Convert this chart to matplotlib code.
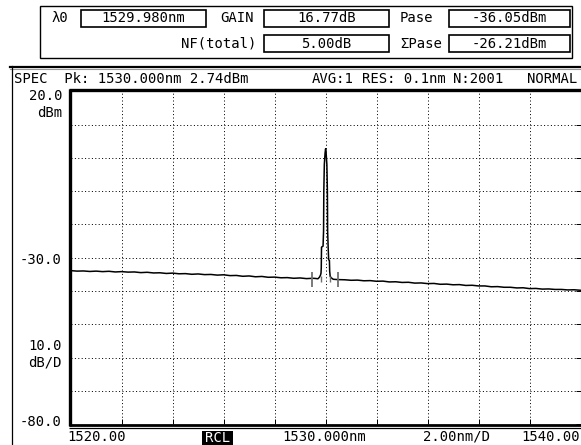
import matplotlib
matplotlib.use("Agg")
import matplotlib.pyplot as plt
import numpy as np
from matplotlib.patches import Rectangle

W, H = 581, 445

# instrument readouts
lambda0_nm = 1529.980
gain_db = 16.77
pase_dbm = -36.05
nf_total_db = 5.00
sum_pase_dbm = -26.21
peak_nm = 1530.000
peak_dbm = 2.74
avg_count = 1
res_nm = 0.1
n_points = 2001

# scale settings
x_start, x_stop, x_div = 1520.00, 1540.00, 2.00
y_top, y_bottom, y_div = 20.0, -80.0, 10.0
y_mid = -30.0

# ASE floor (sampled every 0.25 nm outside the signal line)
floor_nm = [1520.00, 1520.25, 1520.50, 1520.75, 1521.00, 1521.25, 1521.50, 1521.75,
            1522.00, 1522.25, 1522.50, 1522.75, 1523.00, 1523.25, 1523.50, 1523.75,
            1524.00, 1524.25, 1524.50, 1524.75, 1525.00, 1525.25, 1525.50, 1525.75,
            1526.00, 1526.25, 1526.50, 1526.75, 1527.00, 1527.25, 1527.50, 1527.75,
            1528.00, 1528.25, 1528.50, 1528.75, 1529.00, 1529.25, 1529.50,
            1530.50, 1530.75, 1531.00, 1531.25, 1531.50, 1531.75,
            1532.00, 1532.25, 1532.50, 1532.75, 1533.00, 1533.25, 1533.50, 1533.75,
            1534.00, 1534.25, 1534.50, 1534.75, 1535.00, 1535.25, 1535.50, 1535.75,
            1536.00, 1536.25, 1536.50, 1536.75, 1537.00, 1537.25, 1537.50, 1537.75,
            1538.00, 1538.25, 1538.50, 1538.75, 1539.00, 1539.25, 1539.50, 1539.75,
            1540.00]
floor_dbm = [-33.85, -34.00, -33.95, -34.10, -34.00, -34.15, -34.05, -34.25,
             -34.15, -34.30, -34.25, -34.45, -34.35, -34.55, -34.50, -34.70,
             -34.60, -34.80, -34.75, -34.95, -34.85, -35.05, -35.00, -35.20,
             -35.10, -35.35, -35.30, -35.55, -35.45, -35.70, -35.60, -35.85,
             -35.80, -36.00, -35.95, -36.15, -36.05, -36.25, -36.15,
             -36.55, -36.60, -36.75, -36.70, -36.90, -36.85,
             -37.05, -37.00, -37.25, -37.20, -37.40, -37.35, -37.60, -37.55,
             -37.75, -37.70, -37.95, -37.90, -38.10, -38.05, -38.30, -38.25,
             -38.45, -38.45, -38.70, -38.65, -38.85, -38.85, -39.05, -39.00,
             -39.25, -39.20, -39.40, -39.35, -39.50, -39.50, -39.65, -39.60,
             -39.75]

# signal line around 1530 nm
line_nm = [1529.60, 1529.70, 1529.76, 1529.80, 1529.82, 1529.83, 1529.84, 1529.90,
           1529.92, 1529.93, 1529.95, 1529.98, 1530.00, 1530.02, 1530.05, 1530.07,
           1530.08, 1530.10, 1530.12, 1530.15, 1530.16, 1530.18, 1530.22, 1530.30,
           1530.40]
line_dbm = [-36.20, -36.30, -35.80, -35.20, -34.60, -33.00, -26.80, -26.50,
            -22.00, -10.00, -2.00, 1.50, 2.74, 1.50, -2.00, -10.00,
            -22.00, -26.80, -30.60, -30.80, -34.00, -35.60, -36.00, -36.45,
            -36.50]

# ASE interpolation markers
marker_nm = [1529.48, 1530.48]
inner_marker_nm = [1529.80, 1530.18]

plt.rcParams["font.family"] = "DejaVu Sans Mono"
plt.rcParams["font.size"] = 10

fig = plt.figure(figsize=(W / 100, H / 100), dpi=100)
fig.patch.set_facecolor("white")

# spectrum area, pixel box
L, R, T, B = 70.7, 580.5, 91.3, 424.3
ax = fig.add_axes([L / W, 1 - B / H, (R - L) / W, (B - T) / H])
ax.set_xlim(x_start, x_stop)
ax.set_ylim(y_bottom, y_top)
ax.set_xticks(np.arange(x_start, x_stop + 0.01, x_div))
ax.set_yticks(np.arange(y_bottom, y_top + 0.01, y_div))
ax.grid(True, color="black", linewidth=0.72, linestyle=(0, (1, 2.4)))
ax.tick_params(bottom=True, right=True, left=False, top=False,
               labelbottom=False, labelleft=False,
               direction="in", length=3.6, width=0.72, color="black")
for side in ["top", "bottom", "left"]:
    ax.spines[side].set_visible(False)
ax.spines["right"].set_color("#888888")
ax.spines["right"].set_linewidth(0.8)

nm = np.array(floor_nm + line_nm)
dbm = np.array(floor_dbm + line_dbm)
order = np.argsort(nm)
ax.plot(nm[order], dbm[order], color="black", linewidth=1.1)

ax.vlines(marker_nm, -38.7, -34.2, color="#707070", linewidth=1.3)
ax.vlines(inner_marker_nm, -37.4, -35.4, color="#707070", linewidth=1.0)

# overlay in pixel coordinates for the frame, readouts and annotations
ov = fig.add_axes([0, 0, 1, 1])
ov.set_xlim(0, W)
ov.set_ylim(H, 0)
ov.axis("off")

# screen frame
ov.plot([10, W], [66.5, 66.5], color="black", linewidth=1.6)
ov.plot([10, W], [69.0, 69.0], color="#999999", linewidth=0.8)
ov.plot([11.5, 11.5], [66, H], color="black", linewidth=0.9)

# plot border
ov.plot([69, W], [89.5, 89.5], color="black", linewidth=2.4, solid_capstyle="butt")
ov.plot([70, 70], [88.5, 425.5], color="black", linewidth=2.4, solid_capstyle="butt")
ov.plot([69, W], [424.5, 424.5], color="black", linewidth=2.0, solid_capstyle="butt")
ov.plot([69, W], [427.5, 427.5], color="black", linewidth=0.9, solid_capstyle="butt")

# header
ov.text(14, 79, f"SPEC  Pk: {peak_nm:.3f}nm {peak_dbm:.2f}dBm", ha="left", va="center")
ov.text(312, 79, f"AVG:{avg_count}", ha="left", va="center")
ov.text(362, 79, f"RES: {res_nm}nm", ha="left", va="center")
ov.text(503, 79, f"N:{n_points}", ha="right", va="center")
ov.text(577, 79, "NORMAL", ha="right", va="center")

# y scale labels
ov.text(62, 96, f"{y_top:.1f}", ha="right", va="center")
ov.text(62, 113, "dBm", ha="right", va="center")
ov.text(62, 260, f"{y_mid:.1f}", ha="right", va="center")
ov.text(62, 346, f"{y_div:.1f}", ha="right", va="center")
ov.text(62, 363, "dB/D", ha="right", va="center")
ov.text(62, 422, f"{y_bottom:.1f}", ha="right", va="center")

# x scale labels
ov.text(67, 437, f"{x_start:.2f}", ha="left", va="center")
ov.text(282, 437, f"{peak_nm:.3f}nm", ha="left", va="center")
ov.text(423, 437, f"{x_div:.2f}nm/D", ha="left", va="center")
ov.text(521, 437, f"{x_stop:.2f}", ha="left", va="center")
ov.add_patch(Rectangle((202, 431), 31, 14, facecolor="black", edgecolor="none"))
ov.text(217.5, 438, "RCL", ha="center", va="center", color="white")

# readout panel
ov.add_patch(Rectangle((40, 6), 532, 52, facecolor="white", edgecolor="black", linewidth=1.0))
boxes = [
    (81, 10, f"{lambda0_nm:.3f}nm"),
    (264, 10, f"{gain_db:.2f}dB"),
    (449, 10, f"{pase_dbm:.2f}dBm"),
    (264, 35, f"{nf_total_db:.2f}dB"),
    (449, 35, f"{sum_pase_dbm:.2f}dBm"),
]
for bx, by, s in boxes:
    bw = 125 if bx < 440 else 121
    ov.add_patch(Rectangle((bx, by), bw, 17, facecolor="white", edgecolor="black", linewidth=1.2))
    ov.text(bx + bw / 2, by + 8.5, s, ha="center", va="center")
ov.text(52, 18.5, "λ0", ha="left", va="center")
ov.text(254, 18.5, "GAIN", ha="right", va="center")
ov.text(400, 18.5, "Pase", ha="left", va="center")
ov.text(256, 43.5, "NF(total)", ha="right", va="center")
ov.text(400, 43.5, "ΣPase", ha="left", va="center")

fig.savefig("out.png", dpi=100, facecolor="white")
